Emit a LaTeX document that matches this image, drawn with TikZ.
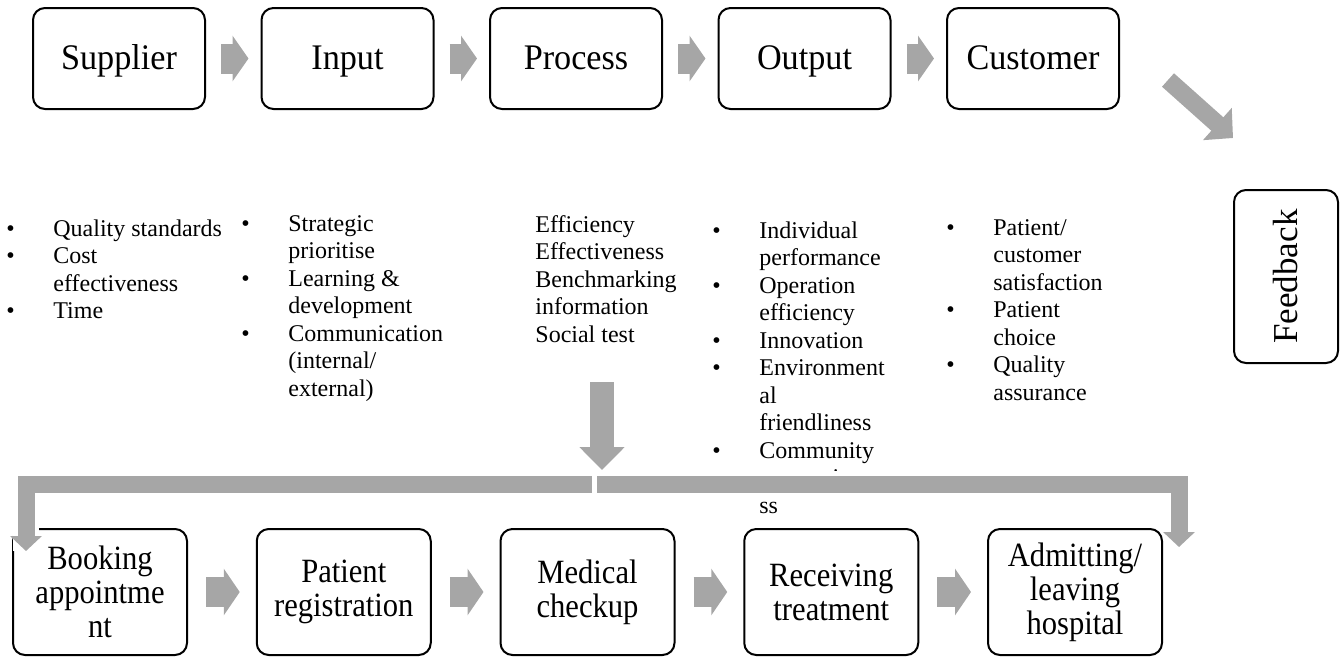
\documentclass[tikz,border=0pt]{standalone}
\usepackage{fontspec}
\setmainfont{Liberation Serif}
\newfontfamily\topfam{Liberation Serif}[FakeStretch=0.95]
\newfontfamily\botfam{Liberation Serif}[FakeStretch=0.9]
\usetikzlibrary{arrows.meta}
\definecolor{arrowgray}{HTML}{A6A6A6}
\newcommand{\topfont}{\topfam\fontsize{18}{16}\selectfont}
\newcommand{\botfont}{\botfam\fontsize{17}{17}\selectfont}
\newcommand{\listfont}{\fontsize{12}{13.75}\selectfont}
\tikzset{
  pbox/.style={draw, line width=1pt, rounded corners=6pt, fill=white,
    inner sep=0pt, align=center},
  topbox/.style={pbox, minimum width=86pt, minimum height=50.5pt,
    font=\topfont, text height=12pt, text depth=1.5pt},
  botbox/.style={pbox, minimum width=87pt, minimum height=63pt, font=\botfont},
  plist/.style={anchor=base west, inner sep=0pt, font=\listfont},
  flow/.style={draw, color=arrowgray, line width=15pt,
    -{Triangle[length=8pt,width=22.5pt]}, shorten <=7.5pt, shorten >=6pt},
  botflow/.style={draw, color=arrowgray, line width=15pt,
    -{Triangle[length=8pt,width=23pt]}, shorten <=9pt, shorten >=8pt},
  diagflow/.style={draw, color=arrowgray, line width=9pt,
    -{Triangle[length=10.5pt,width=21pt]}},
  downflow/.style={draw, color=arrowgray, line width=12pt,
    -{Triangle[length=11.5pt,width=22pt]}},
  barflow/.style={draw, color=arrowgray, line width=8.5pt, line join=miter,
    -{Triangle[length=7.5pt,width=15.5pt]},
    preaction={draw=white, line width=13pt, arrows=-}}
}

\begin{document}
\begin{tikzpicture}[x=0.5pt,y=-0.5pt]
\useasboundingbox (0,0) rectangle (1343,660);

% SIPOC row
\node[topbox] (sipoc-1) at (119,58.5)    {Supplier};
\node[topbox] (sipoc-2) at (347.5,58.5)  {Input};
\node[topbox] (sipoc-3) at (576,58.5)    {Process};
\node[topbox] (sipoc-4) at (804.5,58.5)  {Output};
\node[topbox] (sipoc-5) at (1033,58.5)   {Customer};
\node[pbox, minimum width=52pt, minimum height=86.5pt, font=\fontsize{17.5}{20}\selectfont]
  (fb) at (1286,276.5) {\rotatebox{90}{Feedback}};

% measures under each step
\node[plist] (list-1) at (6,236) {\begin{tabular}[t]{@{}p{23.5pt}@{}l@{}}
\textbullet & Quality standards\\
\textbullet & Cost\\
 & effectiveness\\
\textbullet & Time
\end{tabular}};
\node[plist] (list-2) at (241,231) {\begin{tabular}[t]{@{}p{23.5pt}@{}l@{}}
\textbullet & Strategic\\
 & prioritise\\
\textbullet & Learning \&\\
 & development\\
\textbullet & Communication\\
 & (internal/\\
 & external)
\end{tabular}};
\node[plist] (list-3) at (535,232) {\begin{tabular}[t]{@{}l@{}}
Efficiency\\
Effectiveness\\
Benchmarking\\
information\\
Social test
\end{tabular}};
\node[plist] (list-4) at (712,238) {\begin{tabular}[t]{@{}p{23.5pt}@{}l@{}}
\textbullet & Individual\\
 & performance\\
\textbullet & Operation\\
 & efficiency\\
\textbullet & Innovation\\
\textbullet & Environment\\
 & al\\
 & friendliness\\
\textbullet & Community\\
 & responsivene\\
 & ss
\end{tabular}};
\node[plist] (list-5) at (946,235) {\begin{tabular}[t]{@{}p{23.5pt}@{}l@{}}
\textbullet & Patient/\\
 & customer\\
 & satisfaction\\
\textbullet & Patient\\
 & choice\\
\textbullet & Quality\\
 & assurance
\end{tabular}};

% patient journey row
\node[botbox] (pat-1) at (100,592)     {Booking\\appointme\\nt};
\node[botbox] (pat-2) at (343.75,592)  {Patient\\registration};
\node[botbox] (pat-3) at (587.5,592)   {Medical\\checkup};
\node[botbox] (pat-4) at (831.25,592)  {Receiving\\treatment};
\node[botbox] (pat-5) at (1075,592)    {Admitting/\\leaving\\hospital};

\coordinate (drop-top) at (602,382);
\coordinate (drop) at (602,470);
\coordinate (gap-l) at (592,484);
\coordinate (gap-r) at (597,484);

\path[flow] (sipoc-1) edge (sipoc-2);
\path[flow] (sipoc-2) edge (sipoc-3);
\path[flow] (sipoc-3) edge (sipoc-4);
\path[flow] (sipoc-4) edge (sipoc-5);
\draw[diagflow] ([shift={(48,21.5)}]sipoc-5.east) -- ([shift={(0,-51)}]fb.north west);

\draw[downflow] (drop-top) -- (drop);
\draw[barflow] (gap-l) -| ([shift={(14,23)}]pat-1.north west);
\draw[barflow] (gap-r) -| ([shift={(16,19)}]pat-5.north east);

\path[botflow] (pat-1) edge (pat-2);
\path[botflow] (pat-2) edge (pat-3);
\path[botflow] (pat-3) edge (pat-4);
\path[botflow] (pat-4) edge (pat-5);
\end{tikzpicture}
\end{document}
